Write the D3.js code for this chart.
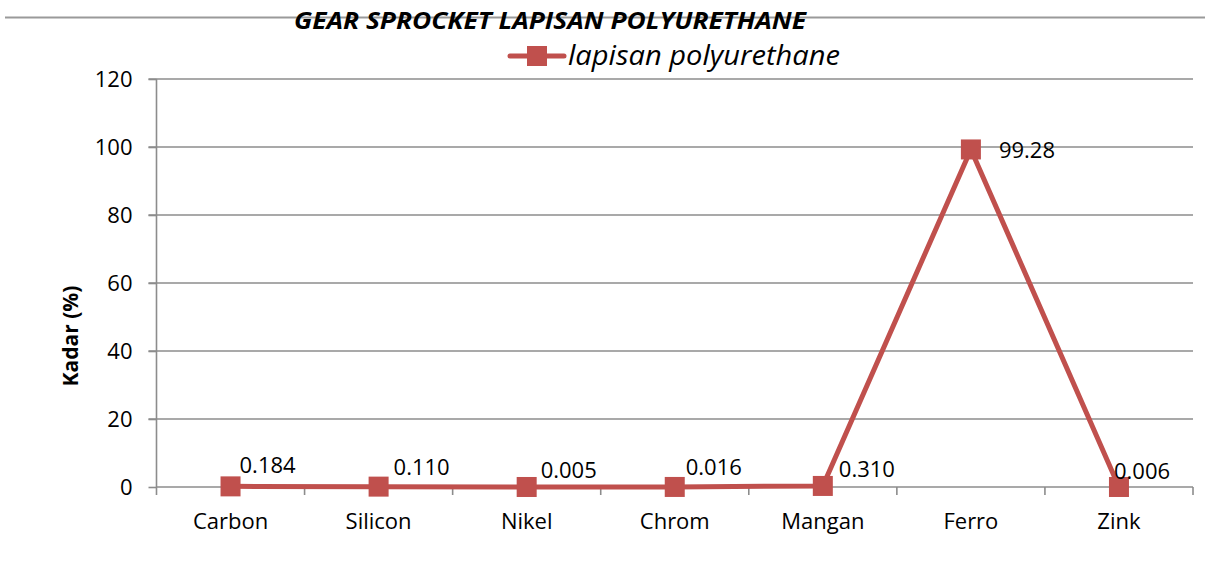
<!DOCTYPE html>
<html>
<head>
<meta charset="utf-8">
<script src="https://cdn.jsdelivr.net/npm/d3@7"></script>
<style>
  body { margin: 0; background: #fff; }
  text { font-family: "Open Sans", sans-serif; fill: #000; }
</style>
</head>
<body>
<div id="chart"></div>
<script>
// data
const categories = ["Carbon", "Silicon", "Nikel", "Chrom", "Mangan", "Ferro", "Zink"];
const kadar = [0.184, 0.110, 0.005, 0.016, 0.310, 99.28, 0.006];
const kadarLabels = ["0.184", "0.110", "0.005", "0.016", "0.310", "99.28", "0.006"];
const yTicks = [0, 20, 40, 60, 80, 100, 120];

// label nudges (dx, dy from the point), as placed in the original
const labelNudge = [[9, -13], [15, -12], [14, -9], [11, -12], [16, -9], [28, 9], [-5, -8]];

const width = 1205, height = 588;
const lineColor = "#c0504d";
const gridColor = "#8c8c8c";

const svg = d3.select("#chart")
  .append("svg")
  .attr("width", width)
  .attr("height", height);

const plot = { left: 156.5, right: 1193, top: 79, bottom: 487 };

const xScale = d3.scaleBand()
  .domain(categories)
  .range([plot.left, plot.right]);

const yScale = d3.scaleLinear()
  .domain([0, 120])
  .range([plot.bottom, plot.top]);

const xc = d => xScale(d) + xScale.bandwidth() / 2;

// top rule
svg.append("line")
  .attr("x1", 5).attr("x2", width)
  .attr("y1", 17.5).attr("y2", 17.5)
  .attr("stroke", "#9a9a9a")
  .attr("stroke-width", 2);

// gridlines
svg.append("g")
  .selectAll("line")
  .data(yTicks.filter(t => t > 0))
  .enter().append("line")
  .attr("x1", plot.left - 8).attr("x2", plot.right)
  .attr("y1", d => yScale(d)).attr("y2", d => yScale(d))
  .attr("stroke", gridColor)
  .attr("stroke-width", 1.6);

// y axis
const yAxis = svg.append("g")
  .attr("transform", `translate(${plot.left},0)`)
  .call(d3.axisLeft(yScale).tickValues(yTicks).tickSize(8).tickPadding(16));
yAxis.select(".domain").attr("stroke", gridColor).attr("stroke-width", 1.6)
  .attr("d", `M0,${plot.top}V${plot.bottom + 8}`);
yAxis.selectAll(".tick line").attr("stroke", gridColor).attr("stroke-width", 1.6);
yAxis.selectAll(".tick text")
  .style("font-family", "'Open Sans', sans-serif")
  .style("font-size", "22px")
  .attr("fill", "#000");

// x axis
const xAxis = svg.append("g")
  .attr("transform", `translate(0,${plot.bottom})`)
  .call(d3.axisBottom(xScale).tickSize(0).tickPadding(26));
xAxis.select(".domain").remove();
xAxis.selectAll(".tick text")
  .style("font-family", "'Open Sans', sans-serif")
  .style("font-size", "22px")
  .attr("fill", "#000");

svg.append("line")
  .attr("x1", plot.left).attr("x2", plot.right)
  .attr("y1", plot.bottom).attr("y2", plot.bottom)
  .attr("stroke", gridColor).attr("stroke-width", 1.6);

svg.append("g")
  .selectAll("line")
  .data(categories.slice(1).concat(["__end"]))
  .enter().append("line")
  .attr("x1", d => d === "__end" ? plot.right : xScale(d))
  .attr("x2", d => d === "__end" ? plot.right : xScale(d))
  .attr("y1", plot.bottom).attr("y2", plot.bottom + 8)
  .attr("stroke", gridColor).attr("stroke-width", 1.6);

// axis title
svg.append("text")
  .attr("transform", `translate(78,336) rotate(-90)`)
  .attr("text-anchor", "middle")
  .style("font-size", "21px")
  .style("font-weight", "bold")
  .text("Kadar (%)");

// chart title
svg.append("text")
  .attr("x", 550).attr("y", 29)
  .attr("text-anchor", "middle")
  .style("font-size", "23px")
  .style("font-weight", "bold")
  .style("font-style", "italic")
  .attr("textLength", 512)
  .attr("lengthAdjust", "spacingAndGlyphs")
  .text("GEAR SPROCKET LAPISAN POLYURETHANE");

// legend
const legend = svg.append("g");
legend.append("line")
  .attr("x1", 510).attr("x2", 564)
  .attr("y1", 56).attr("y2", 56)
  .attr("stroke", lineColor).attr("stroke-width", 5)
  .attr("stroke-linecap", "round");
legend.append("rect")
  .attr("x", 527).attr("y", 46)
  .attr("width", 20).attr("height", 20)
  .attr("fill", lineColor);
legend.append("text")
  .attr("x", 568).attr("y", 65)
  .style("font-size", "27px")
  .style("font-style", "italic")
  .attr("textLength", 272)
  .attr("lengthAdjust", "spacingAndGlyphs")
  .text("lapisan polyurethane");

// series line
const line = d3.line()
  .x((d, i) => xc(categories[i]))
  .y(d => yScale(d));

svg.append("path")
  .datum(kadar)
  .attr("d", line)
  .attr("fill", "none")
  .attr("stroke", lineColor)
  .attr("stroke-width", 5)
  .attr("stroke-linejoin", "round");

// markers
svg.selectAll(".marker")
  .data(kadar)
  .enter().append("rect")
  .attr("class", "marker")
  .attr("x", (d, i) => xc(categories[i]) - 10)
  .attr("y", d => yScale(d) - 10)
  .attr("width", 20)
  .attr("height", 20)
  .attr("fill", lineColor);

// data labels
svg.selectAll(".label")
  .data(kadar)
  .enter().append("text")
  .attr("class", "label")
  .attr("x", (d, i) => xc(categories[i]) + labelNudge[i][0])
  .attr("y", (d, i) => yScale(d) + labelNudge[i][1])
  .style("font-size", "22px")
  .text((d, i) => kadarLabels[i]);
</script>
</body>
</html>
